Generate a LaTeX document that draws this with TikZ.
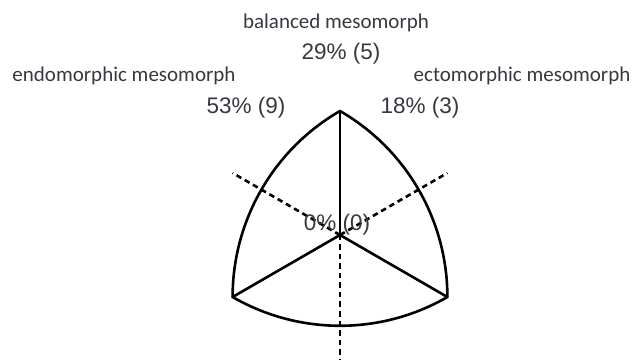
\documentclass[tikz,border=0pt]{standalone}
\usepackage{fontspec}
\usetikzlibrary{calc}
\newfontfamily\labfont{Carlito}
\newfontfamily\pctfont{Liberation Sans}
\definecolor{txt}{rgb}{0.22,0.22,0.25}
\begin{document}
\begin{tikzpicture}[x=1pt,y=1pt,
  lab/.style={font=\labfont\fontsize{21}{24}\selectfont, text=txt, anchor=base, inner sep=0pt},
  pct/.style={font=\pctfont\fontsize{22.5}{26}\selectfont, text=txt, anchor=base, inner sep=0pt},
  edge/.style={line width=2.6pt, line join=round, line cap=round},
  axis/.style={line width=2.6pt, dash pattern=on 5.5pt off 4pt}]
\useasboundingbox (0,0) rectangle (632,359);
\coordinate (C) at (340,124);
\coordinate (T) at ($(C)+(90:124)$);
\coordinate (L) at ($(C)+(210:124)$);
\coordinate (R) at ($(C)+(330:124)$);
\coordinate (DL) at ($(C)+(150:124)$);
\coordinate (DR) at ($(C)+(30:124)$);
\coordinate (DB) at ($(C)+(270:124)$);
% Reuleaux triangle outline
\draw[edge] (L) arc[start angle=180,end angle=120,radius=214.77]
  arc[start angle=60,end angle=0,radius=214.77]
  arc[start angle=-60,end angle=-120,radius=214.77] -- cycle;
\draw[edge] (C) -- (T);
\draw[edge] (C) -- (L);
\draw[edge] (C) -- (R);
\draw[axis] (C) -- (DL);
\draw[axis] (C) -- (DR);
\draw[axis] (C) -- (DB);
\node[lab] (bal) at (336,330) {balanced mesomorph};
\node[pct] (pbal) at (341,299) {29\% (5)};
\node[lab] (endo) at (124,277) {endomorphic mesomorph};
\node[pct] (pendo) at (246,245) {53\% (9)};
\node[lab] (ecto) at (522,277) {ectomorphic mesomorph};
\node[pct] (pecto) at (420,245) {18\% (3)};
\node[pct] (pzero) at (337,128) {0\% (0)};
\end{tikzpicture}
\end{document}
